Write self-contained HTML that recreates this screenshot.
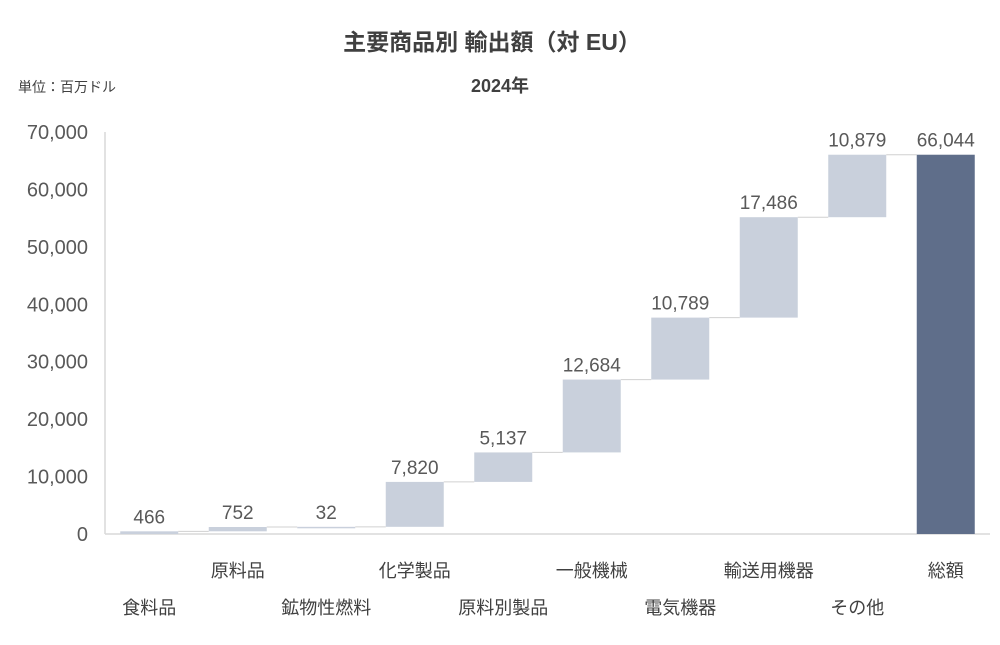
<!DOCTYPE html>
<html><head><meta charset="utf-8"><style>
body{margin:0;background:#fff;}
svg text{font-family:"Liberation Sans","Noto Sans CJK JP",sans-serif;}
</style></head><body>
<svg id="c" width="1000" height="640">
<text x="492" y="50" text-anchor="middle" font-size="23" font-weight="bold" fill="#404040">主要商品別 輸出額（対 EU）</text>
<text x="500" y="92" text-anchor="middle" font-size="18" font-weight="bold" fill="#404040">2024年</text>
<text x="18" y="92" font-size="14" fill="#404040">単位：百万ドル</text>
<g id="plot"></g>
</svg>
<script>
const categories=["食料品","原料品","鉱物性燃料","化学製品","原料別製品","一般機械","電気機器","輸送用機器","その他","総額"];
const values=[466,752,32,7820,5137,12684,10789,17486,10879];
const totalValue=66044;
const yTicks=[0,10000,20000,30000,40000,50000,60000,70000];
const X0=105,SLOT=88.5,BW=58,Y0=534,YT=132,YMAX=70000;
const y=v=>Y0-(v/YMAX)*(Y0-YT);
const xc=i=>X0+SLOT*(i+0.5);
const ns="http://www.w3.org/2000/svg";
const g=document.getElementById('plot');
function mk(t,a,p){const e=document.createElementNS(ns,t);for(const k in a)e.setAttribute(k,a[k]);(p||g).appendChild(e);return e;}
const fmt=v=>v.toLocaleString('en-US');
// axes
let ax=mk('line',{x1:X0,y1:Y0,x2:X0+SLOT*10,y2:Y0,stroke:'#d9d9d9','stroke-width':1.5});


let ay=mk('line',{x1:X0,y1:YT,x2:X0,y2:Y0,stroke:'#d9d9d9','stroke-width':1.5});


yTicks.forEach(t=>{
 const e=mk('text',{x:88,y:y(t)+7,'text-anchor':'end','font-size':20,fill:'#595959'});
 e.textContent=fmt(t);
 
 
});
let cum=0;
values.forEach((v,i)=>{
 const x=xc(i)-BW/2,top=y(cum+v),bot=y(cum);
 const r=mk('rect',{x:x,y:top,width:BW,height:Math.max(bot-top,1.5),fill:'#c9d0dc'});
 
 
 cum+=v;
 const nx=(i<values.length-1)?xc(i+1)-BW/2:xc(i+1)-BW/2;
 const l=mk('line',{x1:x+BW,y1:y(cum),x2:nx,y2:y(cum),stroke:'#d0d0d0','stroke-width':1});
 
 
 const t=mk('text',{x:xc(i),y:top-8,'text-anchor':'middle','font-size':19,fill:'#595959'});
 t.textContent=fmt(v);
 
 
});
const ti=values.length;
const tr=mk('rect',{x:xc(ti)-BW/2,y:y(totalValue),width:BW,height:Y0-y(totalValue),fill:'#5f6e8a'});


const tt=mk('text',{x:xc(ti),y:y(totalValue)-8,'text-anchor':'middle','font-size':19,fill:'#595959'});
tt.textContent=fmt(totalValue);


categories.forEach((c,i)=>{
 const e=mk('text',{x:xc(i),y:(i%2===1||i===9)?577:614,'text-anchor':'middle','font-size':18,fill:'#404040'});
 e.textContent=c;
 
 
});
</script>
</body></html>
